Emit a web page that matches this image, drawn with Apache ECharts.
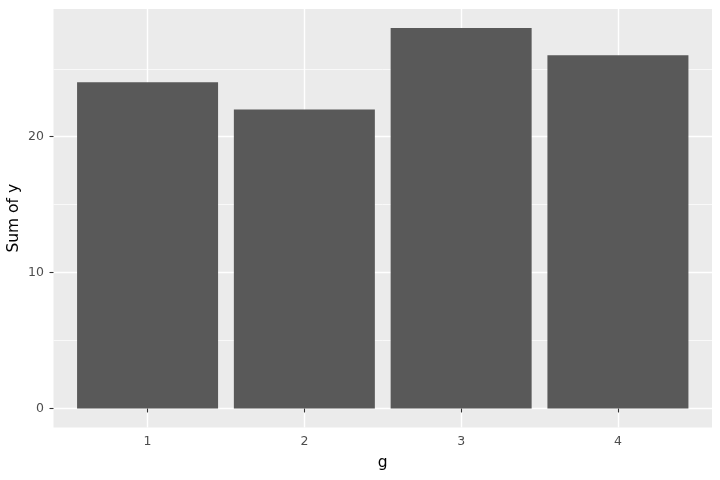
<!DOCTYPE html>
<html><head><meta charset="utf-8">
<script src="https://cdn.jsdelivr.net/npm/echarts@6/dist/echarts.min.js"></script>
<style>html,body{margin:0;padding:0;background:#fff}#c{width:720px;height:480px}</style>
</head><body><div id="c"></div>
<script>
const categories = [1, 2, 3, 4];
const sumY = [24, 22, 28, 26];
const yTicks = [0, 10, 20];
const yMinor = [5, 15, 25];

const chart = echarts.init(document.getElementById('c'), null, {renderer: 'canvas'});
const font = 'DejaVu Sans, sans-serif';
const grid = {left: 53.5, right: 8, top: 9, bottom: 52.5, show: true, backgroundColor: '#EBEBEB', borderWidth: 0, containLabel: false, outerBoundsMode: 'none'};
chart.setOption({
  animation: false,
  grid: grid,
  xAxis: [{
    type: 'value', min: 0.4, max: 4.6,
    name: 'g', nameLocation: 'middle', nameGap: 27, nameMoveOverlap: false,
    nameTextStyle: {color: '#000', fontSize: 15.5, fontFamily: font},
    axisLine: {show: false},
    axisTick: {show: true, length: 4, lineStyle: {color: '#333', width: 1.1}, customValues: categories},
    axisLabel: {customValues: categories, color: '#4D4D4D', fontSize: 12.5, fontFamily: font, margin: 8},
    splitLine: {show: true, lineStyle: {color: '#fff', width: 1.4}}
  }],
  yAxis: [{
    type: 'value', min: -1.4, max: 29.4,
    name: 'Sum of y', nameLocation: 'middle', nameGap: 32, nameRotate: 90, nameMoveOverlap: false,
    nameTextStyle: {color: '#000', fontSize: 15.5, fontFamily: font},
    axisLine: {show: false},
    axisTick: {show: true, length: 4, lineStyle: {color: '#333', width: 1.1}, customValues: yTicks},
    axisLabel: {customValues: yTicks, color: '#4D4D4D', fontSize: 12.5, fontFamily: font, margin: 9.5},
    splitLine: {show: true, lineStyle: {color: '#fff', width: 1.4}}
  }, {
    type: 'value', min: -1.4, max: 29.4, position: 'left', offset: 0,
    axisLine: {show: false},
    axisTick: {show: false, customValues: yMinor},
    axisLabel: {show: false, customValues: yMinor},
    splitLine: {show: true, lineStyle: {color: '#fff', width: 0.7}}
  }],
  series: [{
    type: 'bar',
    data: categories.map((c, i) => [c, sumY[i]]),
    barWidth: 141,
    itemStyle: {color: '#595959'},
    z: 5
  }]
});
</script></body></html>
